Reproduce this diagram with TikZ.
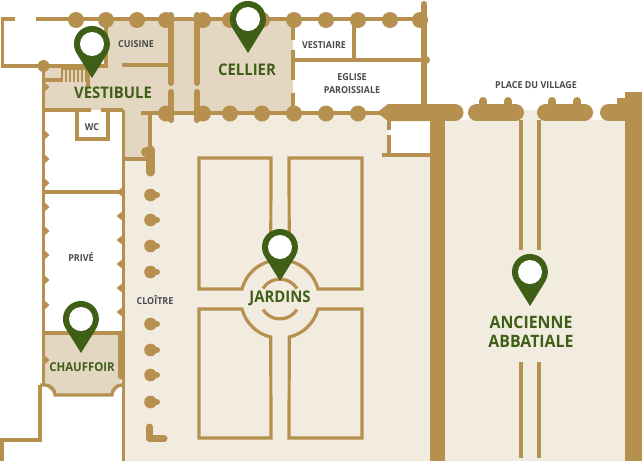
\documentclass[tikz,border=0pt]{standalone}
\usepackage{fontspec}
\setmainfont{Open Sans}[FakeStretch=0.93]
\definecolor{stone}{HTML}{B5904F}
\definecolor{room}{HTML}{E3D7C1}
\definecolor{court}{HTML}{F2EBE0}
\definecolor{moss}{HTML}{3F5F17}
\definecolor{slate}{HTML}{4A4A4E}
\tikzset{marker/.pic={
    \fill[moss] (0,34) -- (-15.3,9.5) arc[start angle=148,end angle=392,radius=18] -- cycle;
    \fill[white] (0,0) circle[radius=12];
}}

\begin{document}
\begin{tikzpicture}[x=0.75pt,y=-0.75pt]
    \tikzstyle{wall}=[draw=stone,line width=2.4pt,line join=miter]
    \tikzstyle{thick}=[draw=stone,line width=4.5pt,line cap=round]
    \tikzstyle{bar}=[draw=stone,line width=12.75pt,line cap=round]
    \tikzstyle{small}=[text=slate,font=\fontsize{7.2}{9.5}\selectfont\bfseries,align=center,inner sep=0pt]
    \tikzstyle{big}=[text=moss,font=\fontsize{12}{14.5}\selectfont\bfseries,align=center,inner sep=0pt]
    \useasboundingbox (0,0) rectangle (642,461);

    % floors
    \fill[court] (124,461) -- (124,158) -- (150,158) -- (150,113) -- (430,113) -- (430,461) -- cycle;
    \fill[court] (445,120) -- (521,120) -- (521,110) -- (539,110) -- (539,120) -- (626,120) -- (626,461) -- (445,461) -- cycle;
    \fill[white] (389,120) rectangle (430,155);
    \fill[room] (44,67) -- (106,67) -- (106,20) -- (293,20) -- (293,112) -- (150,112) -- (150,158) -- (123,158) -- (123,110) -- (44,110) -- cycle;
    \fill[room] (44,333) -- (121,333) -- (121,385) -- (112,395) -- (55,395) -- (44,385) -- cycle;

    % outer walls
    \draw[wall] (15,19) -- (2.5,19) -- (2.5,66) -- (106,66) -- (106,19);
    \draw[wall] (36,19) -- (424,19);
    \draw[wall] (43.5,66) -- (43.5,385);
    \draw[wall] (123.5,110) -- (123.5,461);
    \draw[wall] (44,110) -- (91,110);
    \draw[wall] (101,110) -- (123,110);
    \draw[wall] (77,110) -- (77,139) -- (108,139) -- (108,110);
    \draw[wall] (44,192) -- (123,192);
    \draw[wall] (44,333) -- (123,333);
    \draw[wall] (122,65) -- (170,65);
    \draw[wall] (141,113) -- (380,113);
    \draw[wall] (150,113) -- (150,150);
    \draw[wall] (122,159) -- (150,159);
    \draw[wall] (293,60) -- (424,60);
    \draw[wall] (354,20) -- (354,60);
    \draw[wall] (293,20) -- (293,40);
    \draw[wall] (293,50) -- (293,80);
    \draw[wall] (293,93) -- (293,112);
    \draw[wall] (389,120) -- (389,130);
    \draw[wall] (389,135) -- (389,155);
    \draw[wall] (382,155) -- (430,155);
    \draw[wall] (521,120) -- (521,250);
    \draw[wall] (539,120) -- (539,250);
    \draw[wall] (521,362) -- (521,458);
    \draw[wall] (539,362) -- (539,458);
    \draw[wall] (40,385) -- (45,385) arc[start angle=270,end angle=360,radius=10] -- (112,395) arc[start angle=180,end angle=270,radius=10] -- (124,385);
    \draw[wall] (40,385) -- (40,440) -- (2,440) -- (2,461);

    % stairs
    \draw[wall] (45,80) -- (62,80);
    \draw[wall] (62,68) -- (88,68) -- (88,87);
    \foreach \x in {62,66,70,74,78,82,86}
        \draw[stone,line width=1.1pt] (\x,68) -- (\x,82);

    % heavy walls
    \draw[thick] (171,15) -- (171,83);
    \draw[thick] (171,92) -- (171,120);
    \draw[thick] (197,15) -- (197,83);
    \draw[thick] (197,92) -- (197,120);
    \draw[thick] (424,4) -- (424,105);
    \draw[draw=stone,line width=5.25pt,line cap=round] (121.5,334) -- (121.5,376);
    \fill[stone] (377,112.5) -- (388,104) -- (440,104) -- (440,121) -- (388,121) -- cycle;
    \draw[bar] (440,112.5) -- (455,112.5);
    \draw[bar] (476.5,112.5) -- (515.5,112.5);
    \draw[bar] (545.5,112.5) -- (584.5,112.5);
    \draw[bar] (608.5,112.5) -- (630,112.5);
    \fill[stone] (430,104) rectangle (445,461);
    \fill[stone] (625,92) rectangle (642,461);
    \fill[stone] (617,98) rectangle (626,110);
    \foreach \x in {483,508,552,577}
        \draw[stone,line width=6pt,line cap=round] (\x,101) -- (\x,108);

    % pillars
    \foreach \x in {76,106,137,166,203,230,262,294,326,358,390,420}
        \fill[stone] (\x,20) circle[radius=8];
    \foreach \x in {166,203,230,262,294,326,358}
        \fill[stone] (\x,113.5) circle[radius=8];
    \fill[stone] (43.5,66) circle[radius=6];
    \fill[stone] (426,60) circle[radius=4];
    \foreach \y in {87,135,159,183,207,231,255,280,305,360}
        \fill[stone] (43,\y-6) -- (49.5,\y) -- (43,\y+6) -- cycle;
    \foreach \y in {192,216,240,264,288,312}
        \fill[stone] (124,\y-6) -- (116.5,\y) -- (124,\y+6) -- cycle;
    \foreach \y in {195,220,246,272,324,350,375,402} {
        \fill[stone] (150.5,\y) circle[radius=6.3];
        \draw[stone,line width=4.5pt,line cap=round] (150,\y) -- (157,\y);
    }
    \fill[stone] (146,152) circle[radius=5];
    \draw[stone,line width=6.75pt,line cap=round] (150.5,150) -- (150.5,172);
    \draw[stone,line width=5.25pt,line cap=round,line join=round] (149.5,427) -- (149.5,438.5) -- (164,438.5);

    % gardens
    \draw[wall] (271,158) -- (199,158) -- (199,289) -- (242,289) arc[start angle=194.7,end angle=256.7,radius=39] -- cycle;
    \draw[wall] (289,158) -- (362,158) -- (362,289) -- (318,289) arc[start angle=-14.7,end angle=-76.7,radius=39] -- cycle;
    \draw[wall] (271,438) -- (199,438) -- (199,309) -- (242,309) arc[start angle=165.3,end angle=103.3,radius=39] -- cycle;
    \draw[wall] (289,438) -- (362,438) -- (362,309) -- (318,309) arc[start angle=14.7,end angle=76.7,radius=39] -- cycle;
    \draw[wall] (263,288.5) arc[start angle=212,end angle=328,radius=20];
    \draw[wall] (263,309.5) arc[start angle=148,end angle=32,radius=20];

    % labels
    \node (cuisine)[small] at (136,44) {CUISINE};
    \node (vestiaire)[small] at (324,45) {VESTIAIRE};
    \node (eglise)[small] at (352,83.5) {EGLISE\\PAROISSIALE};
    \node (wc)[small] at (92,127) {WC};
    \node (prive)[small] at (81,257) {PRIVÉ};
    \node (cloitre)[small] at (155,300) {CLOÎTRE};
    \node (place)[small] at (536,85) {PLACE DU VILLAGE};
    \node (vestibule)[big] at (113,93) {VESTIBULE};
    \node (cellier)[big] at (247,70) {CELLIER};
    \node (jardins)[big] at (280,298.5) {JARDINS};
    \node (chauffoir)[big,font=\fontsize{9.2}{12}\selectfont\bfseries] at (82,367) {CHAUFFOIR};
    \node (abbatiale)[big,font=\fontsize{12.8}{14.5}\selectfont\bfseries] at (531,332) {ANCIENNE\\ABBATIALE};

    % pins
    \pic at (92,44) {marker};
    \pic at (248,19) {marker};
    \pic at (280,247) {marker};
    \pic at (81,319) {marker};
    \pic at (530,272) {marker};
\end{tikzpicture}
\end{document}
